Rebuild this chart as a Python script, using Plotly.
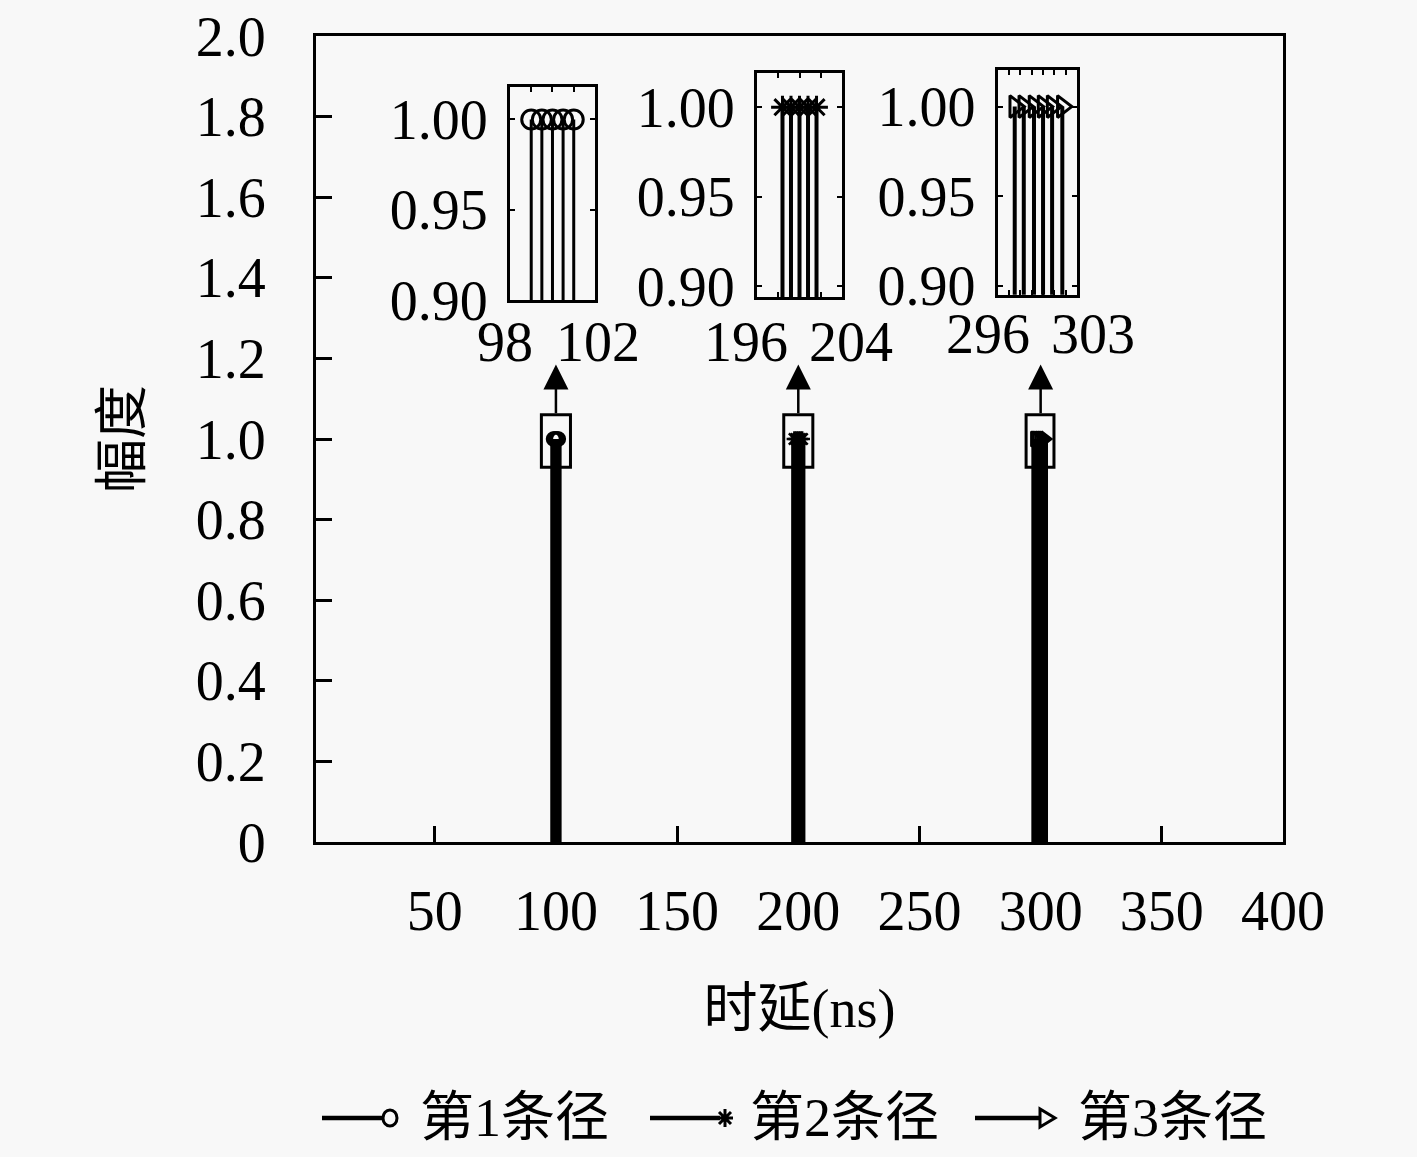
import plotly.graph_objects as go

# ---------------- data ----------------
path1_delay = [99.0, 99.5, 100.0, 100.5, 101.0]
path1_amp = [1.0, 1.0, 1.0, 1.0, 1.0]
path2_delay = [198.4, 199.2, 200.0, 200.8, 201.6]
path2_amp = [1.0, 1.0, 1.0, 1.0, 1.0]
path3_delay = [297.5, 298.3, 299.2, 300.0, 300.8, 301.7]
path3_amp = [1.0, 1.0, 1.0, 1.0, 1.0, 1.0]

legend_names = ["第1条径", "第2条径", "第3条径"]
x_ticks = [50, 100, 150, 200, 250, 300, 350, 400]
x_ticklabels = ["50", "100", "150", "200", "250", "300", "350", "400"]
y_ticks = [0, 0.2, 0.4, 0.6, 0.8, 1.0, 1.2, 1.4, 1.6, 1.8, 2.0]
y_ticklabels = ["0", "0.2", "0.4", "0.6", "0.8", "1.0", "1.2", "1.4", "1.6", "1.8", "2.0"]

inset_x_ranges = [[98, 102], [196, 204], [296, 303]]
inset_x_ticks = [[98, 99, 100, 101, 102], [196, 198, 200, 202, 204], [296, 297, 298, 299, 300, 301, 302, 303]]
inset_x_ticklabels = [["98", "102"], ["196", "204"], ["296", "303"]]
inset_y_ranges = [[0.9, 1.018], [0.894, 1.019], [0.895, 1.0205]]
inset_y_ticks = [0.90, 0.95, 1.00]
inset_y_ticklabels = ["0.90", "0.95", "1.00"]

zoom_box_x0 = [94, 194, 294]
zoom_box_x1 = [106, 206, 305.5]
zoom_box_y = [0.93, 1.06]
arrow_x = [100, 200, 300]
arrow_tip_y = 1.185

# ---------------- style ----------------
FONT = "Liberation Serif, Noto Sans CJK SC, serif"
FS = 56
BG = "#f8f8f8"
symbols = ["circle-open", "asterisk-open", "triangle-right-open"]
paths = [(path1_delay, path1_amp), (path2_delay, path2_amp), (path3_delay, path3_amp)]

inset_dom_x = [[0.2006, 0.2885], [0.456, 0.544], [0.705, 0.787]]
inset_dom_y = [[0.6725, 0.9367], [0.676, 0.954], [0.679, 0.958]]
inset_stem_w = [3, 4, 4]
# pixel centres of the end labels under each inset (labels sit a little outside the box edges)
inset_label_px = [[505, 598], [746, 851], [988, 1093]]
inset_label_py = [342, 342, 334]

# plot area in pixels (for placing texts/legend in paper units)
PL, PR, PT, PB = 316, 1283, 36, 842
def px_x(p):
    return (p - PL) / (PR - PL)
def px_y(p):
    return (PB - p) / (PB - PT)


def stem_xy(xs, ys):
    sx, sy = [], []
    for x, y in zip(xs, ys):
        sx += [x, x, None]
        sy += [0, y, None]
    return sx, sy


fig = go.Figure()

# main axes stems
for (xs, ys), sym in zip(paths, symbols):
    sx, sy = stem_xy(xs, ys)
    fig.add_trace(go.Scatter(x=sx, y=sy, mode="lines", line=dict(color="black", width=6.5),
                             showlegend=False, hoverinfo="skip", xaxis="x", yaxis="y"))
    fig.add_trace(go.Scatter(x=xs, y=ys, mode="markers",
                             marker=dict(symbol=sym, size=13, color="black", line=dict(color="black", width=2.5)),
                             showlegend=False, xaxis="x", yaxis="y"))

# inset stems
for i, ((xs, ys), sym) in enumerate(zip(paths, symbols)):
    ax = str(i + 2)
    sx, sy = stem_xy(xs, ys)
    fig.add_trace(go.Scatter(x=sx, y=sy, mode="lines", line=dict(color="black", width=inset_stem_w[i]),
                             showlegend=False, hoverinfo="skip", xaxis="x" + ax, yaxis="y" + ax))
    fig.add_trace(go.Scatter(x=xs, y=ys, mode="markers",
                             marker=dict(symbol=sym, size=19, color="black", line=dict(color="black", width=3)),
                             showlegend=False, xaxis="x" + ax, yaxis="y" + ax, cliponaxis=False))

axis_common = dict(showline=True, linecolor="black", showgrid=False, zeroline=False,
                   ticks="inside", tickcolor="black", tickangle=0,
                   tickfont=dict(family=FONT, size=FS, color="black"))

layout = dict(
    width=1417, height=1157,
    margin=dict(l=PL, r=1417 - PR, t=PT, b=1157 - PB, autoexpand=False),
    paper_bgcolor=BG, plot_bgcolor=BG,
    font=dict(family=FONT, size=FS, color="black"),
    showlegend=False,
    xaxis=dict(**axis_common, range=[1, 400], domain=[0, 1], linewidth=3, mirror=True,
               ticklen=16, tickwidth=2.5, tickvals=x_ticks, ticktext=x_ticklabels,
               ticklabelstandoff=18, automargin=False,
               title=dict(text="时延(ns)", font=dict(family=FONT, size=54), standoff=48)),
    yaxis=dict(**axis_common, range=[0, 2.0], domain=[0, 1], linewidth=3, mirror=True,
               ticklen=16, tickwidth=2.5, tickvals=y_ticks, ticktext=y_ticklabels,
               ticklabelstandoff=36, automargin=False,
               title=dict(text="幅度", font=dict(family=FONT, size=54), standoff=37)),
)

for i in range(3):
    ax = str(i + 2)
    layout["xaxis" + ax] = dict(**axis_common, range=inset_x_ranges[i], domain=inset_dom_x[i], anchor="y" + ax,
                                linewidth=3, mirror="ticks", ticklen=5, tickwidth=1.5, automargin=False,
                                tickvals=inset_x_ticks[i], showticklabels=False)
    layout["yaxis" + ax] = dict(**axis_common, range=inset_y_ranges[i], domain=inset_dom_y[i], anchor="x" + ax,
                                linewidth=3, mirror="ticks", ticklen=5, tickwidth=1.5, automargin=False,
                                tickvals=inset_y_ticks, ticktext=inset_y_ticklabels, ticklabelstandoff=8)

fig.update_layout(**layout)

# inset end labels
for i in range(3):
    for lab, px in zip(inset_x_ticklabels[i], inset_label_px[i]):
        fig.add_annotation(x=px_x(px), y=px_y(inset_label_py[i]), xref="paper", yref="paper",
                           xanchor="center", yanchor="middle", showarrow=False, text=lab,
                           font=dict(family=FONT, size=FS, color="black"))

# zoom boxes and arrows on main axes
for x0, x1, xa in zip(zoom_box_x0, zoom_box_x1, arrow_x):
    fig.add_shape(type="rect", xref="x", yref="y", x0=x0, x1=x1, y0=zoom_box_y[0], y1=zoom_box_y[1],
                  line=dict(color="black", width=3), fillcolor="rgba(0,0,0,0)", layer="above")
    fig.add_annotation(x=xa, y=arrow_tip_y, ax=xa, ay=zoom_box_y[1], xref="x", yref="y",
                       axref="x", ayref="y", showarrow=True, arrowhead=2, arrowsize=2,
                       arrowwidth=2.5, arrowcolor="black", text="")

# ---------------- hand-drawn legend (line with marker at its end) ----------------
leg_y = px_y(1118)
leg_line_x0 = [322, 650, 975]
leg_line_x1 = [385, 720, 1040]
leg_marker_x = [390, 725, 1045]
leg_text_x = [418, 748, 1076]
marker_paths = [
    None,
    "M-8,0L8,0M0,-9L0,9M-6,-6L6,6M-6,6L6,-6",
    "M-5,-9L10,0L-5,9Z",
]
for i, name in enumerate(legend_names):
    fig.add_shape(type="line", xref="paper", yref="paper",
                  x0=px_x(leg_line_x0[i]), x1=px_x(leg_line_x1[i]), y0=leg_y, y1=leg_y,
                  line=dict(color="black", width=4.5))
    if marker_paths[i] is None:
        fig.add_shape(type="circle", xref="paper", yref="paper", xsizemode="pixel", ysizemode="pixel",
                      xanchor=px_x(leg_marker_x[i]), yanchor=leg_y, x0=-7, x1=7, y0=-8, y1=8,
                      line=dict(color="black", width=3), fillcolor=BG)
    else:
        fig.add_shape(type="path", xref="paper", yref="paper", xsizemode="pixel", ysizemode="pixel",
                      xanchor=px_x(leg_marker_x[i]), yanchor=leg_y, path=marker_paths[i],
                      line=dict(color="black", width=3), fillcolor=BG if i == 2 else None)
    fig.add_annotation(x=px_x(leg_text_x[i]), y=leg_y, xref="paper", yref="paper",
                       xanchor="left", yanchor="middle", showarrow=False, text=name,
                       font=dict(family=FONT, size=54, color="black"))

fig.write_html("out.html", config={"displayModeBar": False},
               post_script="document.body.style.margin='0px';")
